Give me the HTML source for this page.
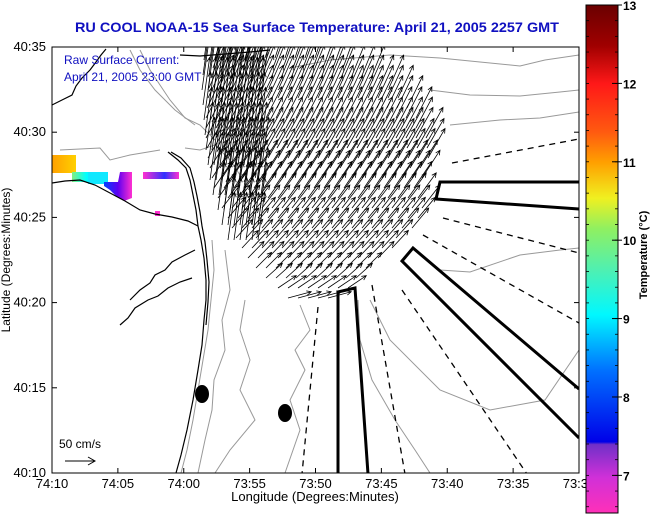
<!DOCTYPE html>
<html><head><meta charset="utf-8"><style>
html,body{margin:0;padding:0;background:#fff;width:651px;height:515px;overflow:hidden}
svg{display:block;font-family:"Liberation Sans",Arial,sans-serif}
</style></head><body>
<svg id="chart" width="651" height="515" viewBox="0 0 651 515">
<defs>
<linearGradient id="cbgrad" x1="0" y1="0" x2="0" y2="1">
<stop offset="0" stop-color="#6a0000"/>
<stop offset="0.08" stop-color="#a00000"/>
<stop offset="0.155" stop-color="#ff1818"/>
<stop offset="0.25" stop-color="#ff5a10"/>
<stop offset="0.31" stop-color="#ffa000"/>
<stop offset="0.38" stop-color="#f0f020"/>
<stop offset="0.44" stop-color="#90f060"/>
<stop offset="0.52" stop-color="#50f0b0"/>
<stop offset="0.61" stop-color="#00f8ff"/>
<stop offset="0.72" stop-color="#0070ff"/>
<stop offset="0.86" stop-color="#0000e8"/>
<stop offset="0.865" stop-color="#7030c8"/>
<stop offset="0.93" stop-color="#d030d8"/>
<stop offset="1" stop-color="#ff30b8"/>
</linearGradient>
<linearGradient id="patchA" x1="0" y1="0" x2="1" y2="0"><stop offset="0" stop-color="#ffa000"/><stop offset="1" stop-color="#ffd000"/></linearGradient>
<linearGradient id="patchB" x1="0" y1="0" x2="1" y2="0"><stop offset="0" stop-color="#80f080"/><stop offset="0.4" stop-color="#00ffff"/><stop offset="1" stop-color="#00e0ff"/></linearGradient>
<linearGradient id="patchC" x1="0" y1="0" x2="1" y2="0"><stop offset="0" stop-color="#0040ff"/><stop offset="0.5" stop-color="#6000f0"/><stop offset="1" stop-color="#ff30d0"/></linearGradient>
<linearGradient id="patchD" x1="0" y1="0" x2="1" y2="0"><stop offset="0" stop-color="#ff30d0"/><stop offset="0.6" stop-color="#3030ff"/><stop offset="1" stop-color="#ff30d0"/></linearGradient>
<clipPath id="plotclip"><rect x="52" y="47" width="527" height="426"/></clipPath>
</defs>

<text x="317" y="32" text-anchor="middle" font-size="14" font-weight="bold" fill="#1010c0" textLength="484" lengthAdjust="spacingAndGlyphs">RU COOL  NOAA-15  Sea Surface Temperature:  April 21, 2005 2257 GMT</text>

<g clip-path="url(#plotclip)">
  <g>
    <rect x="52" y="155" width="24" height="18" fill="url(#patchA)"/>
    <rect x="72" y="172" width="36" height="10" fill="url(#patchB)"/>
    <rect x="88" y="172" width="20" height="12" fill="#10e8ff"/>
    <polygon points="104,182 118,182 120,172 132,172 132,198 124,201 116,196 110,190 104,186" fill="url(#patchC)"/>
    <rect x="143" y="172" width="36" height="7" fill="url(#patchD)"/>
    <rect x="155" y="211" width="5" height="5" fill="#ff30d0"/>
  </g>
  <g fill="none" stroke="#999" stroke-width="1">
    <polyline points="212,240 214,270 211,300 208,330 203,360 198,390 193,420 187,450 181,473"/>
    <polyline points="225,250 230,290 222,320 225,350 214,380 212,410 205,440 198,473"/>
    <polyline points="245,300 240,330 250,360 240,390 255,420 230,450 215,473"/>
    <polyline points="300,305 310,330 295,350 305,370 290,400 300,430 285,473"/>
    <polyline points="358,300 360,340 372,380 395,420 415,450 430,473"/>
    <polyline points="370,300 390,340 440,390 490,410 545,400 579,350"/>
    <polyline points="290,68 330,60 390,55 440,58 480,62 520,66 545,60 579,55"/>
    <polyline points="430,90 470,95 520,96 560,92 579,90"/>
    <polyline points="450,125 500,120 540,118 579,112"/>
    <polyline points="440,270 470,272 520,255 560,250 579,248"/>
    <polyline points="140,50 150,70 160,85 170,100 185,118 200,125 215,140"/>
    <polyline points="130,50 140,70 155,90 175,110 195,125"/>
    <polyline points="185,148 200,150 215,145 230,160 240,175"/>
    <polyline points="60,150 100,148 110,160 130,155 160,150"/>
  </g>
  <g fill="none" stroke="#000" stroke-width="1.2">
    <polyline points="52,105 62,100 72,95 76,86 82,78 90,70 96,62 101,55 106,49"/>
    <polyline points="52,183 65,181 80,180 95,185 110,193 125,201 140,210 155,214 172,217 188,221 198,226"/>
    <polyline points="168,152 178,160 186,168 190,180 193,195 196,210 198,226 201,240 204,258 206,280 206,300 204,320 202,345 198,370 193,400 187,430 181,455 176,473"/>
    <polyline points="171,152 181,158 190,168 194,182 197,196 200,212 202,226 205,242 207,260 209,282 208,302 206,325"/>
    <polyline points="130,300 140,290 150,283 155,275 165,270 172,262 185,255 195,250"/>
    <polyline points="120,325 128,318 135,308 148,300 158,296 168,288 180,282 192,278"/>
    <polyline points="180,55 200,56 225,54 250,52 270,50"/>
  </g>
  <g id="arrows" fill="none" stroke="#000" stroke-width="0.8"></g>
  <g fill="none" stroke="#000" stroke-width="1.3" stroke-dasharray="6,5">
    <line x1="452" y1="163" x2="579" y2="139"/>
    <line x1="443" y1="218" x2="579" y2="253"/>
    <line x1="423" y1="235" x2="579" y2="323"/>
    <line x1="402" y1="290" x2="527" y2="474"/>
    <line x1="372" y1="285" x2="405" y2="474"/>
    <line x1="318" y1="307" x2="302" y2="474"/>
  </g>
  <g fill="none" stroke="#000" stroke-width="3">
    <polyline points="579,182 440,182 436,199 579,209"/>
    <polyline points="579,389 413,248 402,261 579,438"/>
    <polyline points="338,474 338,292 355,288 368,474"/>
  </g>
  <ellipse cx="202" cy="394" rx="7" ry="9" fill="#000"/>
  <ellipse cx="285" cy="413" rx="7" ry="9" fill="#000"/>
  <text x="64" y="64" font-size="12" fill="#1010c0">Raw Surface Current:</text>
  <text x="64" y="81" font-size="12" fill="#1010c0">April 21, 2005 23:00 GMT</text>
  <text x="59" y="448" font-size="12" fill="#000">50 cm/s</text>
  <g stroke="#000" stroke-width="1" fill="none">
    <line x1="65" y1="461" x2="95" y2="461"/><polyline points="88,457 95,461 88,465"/>
  </g>
</g>
<rect x="52" y="47" width="527" height="426" fill="none" stroke="#000" stroke-width="1"/>
<g id="axes"></g>
<text x="315" y="501" text-anchor="middle" font-size="13">Longitude (Degrees:Minutes)</text>
<text transform="translate(10,260) rotate(-90)" text-anchor="middle" font-size="12">Latitude (Degrees:Minutes)</text>

<g>
  <rect x="586" y="5" width="32" height="508" fill="url(#cbgrad)" stroke="#000" stroke-width="1"/>
  <g id="cbticks"></g>
  <text transform="translate(647,255) rotate(-90)" text-anchor="middle" font-size="11" font-weight="bold">Temperature (°C)</text>
</g>
</svg>
<script>
// vector field rows (tail y, x-range, direction deg CCW from east, length px)
const rowY   = [58,68,78,88,98,108,118,128,138,148,158,168,178,188,198,208,218,228,238,248,258,268,278,288,298];
const rowX0  = [215,213,211,209,208,207,206,206,206,207,208,210,212,214,218,222,228,232,236,242,248,256,266,278,288];
const rowX1  = [320,350,375,392,405,414,420,425,428,430,430,428,426,422,418,425,420,412,404,395,385,375,362,350,335];
const rowAng = [72,70,68,66,65,64,63,62,61,60,60,58,57,56,54,52,50,50,48,47,46,45,42,34,15];
const rowLen = [34,36,36,36,36,36,35,35,35,34,34,33,33,32,31,29,27,26,25,24,23,22,22,22,24];
// dense near-shore vectors
const nearY  = [60,75,90,105,120,135,150,165,180,195,210,225,240];
const nearX0 = [204,203,202,203,204,205,206,208,210,213,218,222,228];
const nearX1 = [250,260,262,262,262,262,262,262,262,262,262,262,262];
const nearAng = 82, nearLen = 48;
// axes
const lonTicks = ["74:10","74:05","74:00","73:55","73:50","73:45","73:40","73:35","73:30"];
const latTicks = ["40:35","40:30","40:25","40:20","40:15","40:10"];
const cbTicks  = [13,12,11,10,9,8,7];
const cbMin = 6.52, cbMax = 13;

const NS='http://www.w3.org/2000/svg';
const PX0=52, PX1=579, PY0=47, PY1=473;
const xPos = i => PX0 + i*(PX1-PX0)/(lonTicks.length-1);
const yPos = i => PY0 + i*(PY1-PY0)/(latTicks.length-1);
const cbY = v => 5 + (cbMax - v)/(cbMax - cbMin)*508;

function mk(tag, attrs, parent){const e=document.createElementNS(NS,tag);for(const k in attrs)e.setAttribute(k,attrs[k]);parent.appendChild(e);return e;}

const ag=document.getElementById('arrows');
function arrow(x,y,ang,len){
  const a=ang*Math.PI/180, x2=x+len*Math.cos(a), y2=y-len*Math.sin(a);
  const h=5, s=0.45;
  const p=mk('path',{d:`M${x},${y}L${x2},${y2}M${x2-h*Math.cos(a-s)},${y2+h*Math.sin(a-s)}L${x2},${y2}L${x2-h*Math.cos(a+s)},${y2+h*Math.sin(a+s)}`},ag);
  
  
}
for(let r=0;r<nearY.length;r++){for(let x=nearX0[r];x<=nearX1[r];x+=6){arrow(x,nearY[r],nearAng,nearLen);}}
for(let r=0;r<rowY.length;r++){for(let x=rowX0[r];x<=rowX1[r];x+=10){arrow(x,rowY[r],rowAng[r],rowLen[r]);}}

const ax=document.getElementById('axes');
lonTicks.forEach((t,i)=>{
  const x=xPos(i);
  mk('line',{x1:x,y1:PY1,x2:x,y2:PY1-5,stroke:'#000'},ax);
  mk('line',{x1:x,y1:PY0,x2:x,y2:PY0+5,stroke:'#000'},ax);
  const tx=mk('text',{x:x,y:488,'text-anchor':'middle','font-size':13},ax);
  tx.textContent=t;
  
  
});
latTicks.forEach((t,i)=>{
  const y=yPos(i);
  mk('line',{x1:PX0,y1:y,x2:PX0+5,y2:y,stroke:'#000'},ax);
  mk('line',{x1:PX1,y1:y,x2:PX1-5,y2:y,stroke:'#000'},ax);
  const tx=mk('text',{x:46,y:y+4,'text-anchor':'end','font-size':13},ax);
  tx.textContent=t;
  
  
});
const cb=document.getElementById('cbticks');
for(let v=cbMax; v>cbMin; v-=0.2){
  const y=cbY(v);
  mk('line',{x1:586,y1:y,x2:589,y2:y,stroke:'#000','stroke-width':0.8},cb);
  mk('line',{x1:618,y1:y,x2:615,y2:y,stroke:'#000','stroke-width':0.8},cb);
}
cbTicks.forEach(v=>{
  const y=cbY(v);
  mk('line',{x1:612,y1:y,x2:622,y2:y,stroke:'#000'},cb);
  const tx=mk('text',{x:623,y:y+5,'font-size':12,'font-weight':'bold'},cb);
  tx.textContent=String(v);
  
  
});
</script>
</body></html>
